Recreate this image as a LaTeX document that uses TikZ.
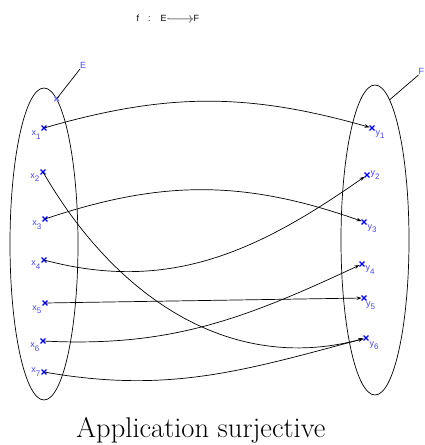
\documentclass[tikz,border=0pt]{standalone}
\usepackage{fontspec}
\usepackage{tikz}
\usetikzlibrary{shapes.misc,shapes.geometric,arrows.meta,positioning,calc}
\newfontfamily\labelfont{Liberation Sans}
\definecolor{pointBlue}{RGB}{0,0,255}
\definecolor{labelBlue}{RGB}{70,70,255}
\definecolor{tagBlue}{RGB}{128,128,255}
\newcommand{\idx}[1]{\raisebox{-0.4em}{\fontsize{8}{9}\selectfont #1}}

\begin{document}
\begin{tikzpicture}[
        x=1pt, y=1pt,
        set/.style={ellipse, draw, line width=0.7pt, inner sep=0pt},
        point/.style={cross out, draw=pointBlue, line width=1.4pt, minimum size=3.5pt, inner sep=0pt},
        lbl/.style={font=\labelfont\fontsize{9}{10}\selectfont, text=labelBlue, inner sep=0.5pt},
        arrow/.style={-{Stealth[length=5pt,width=3.5pt]}, line width=0.7pt},
        label distance=0.5pt
    ]
    \useasboundingbox (0,0) rectangle (425,445);

    % title
    \node[font=\labelfont\fontsize{9}{10}\selectfont, anchor=base west, inner sep=0.5pt] (fmap) at (136,423) {f\hspace{9pt}:\hspace{10pt}E};
    \node[font=\labelfont\fontsize{9}{10}\selectfont, anchor=base west, inner sep=0.5pt] (fimg) at (193,423) {F};
    \draw[->, gray, line width=1pt] (fmap.east) -- (fimg.west);

    % the two sets
    \node[set, minimum width=68pt, minimum height=312pt] (setE) at (44,201) {};
    \node[set, minimum width=68pt, minimum height=310pt] (setF) at (375,205) {};

    \node[point, draw=tagBlue] (tagE) at (setE.85) {};
    \node[lbl, anchor=south west, inner sep=0pt] (nameE) at (80,376) {E};
    \draw[line width=0.7pt] (tagE.center) -- (nameE.south west);
    \node[lbl, anchor=south west, inner sep=0pt] (nameF) at (418.5,370) {F};
    \draw[line width=0.7pt] (setF.84) -- (nameF.south west);

    % elements of E
    \node[point, label={[lbl]-140:x\idx{1}}] (x1) at (44,317) {};
    \node[point, label={[lbl]195:x\idx{2}}] (x2) at (43,273) {};
    \node[point, label={[lbl]200:x\idx{3}}] (x3) at (45,226) {};
    \node[point, label={[lbl]190:x\idx{4}}] (x4) at (44,185) {};
    \node[point, label={[lbl]210:x\idx{5}}] (x5) at (45,142) {};
    \node[point, label={[lbl]205:x\idx{6}}] (x6) at (43,104) {};
    \node[point, label={[lbl]180:x\idx{7}}] (x7) at (44,73) {};

    % elements of F
    \node[point, label={[lbl]-30:y\idx{1}}] (y1) at (372,317) {};
    \node[point, label={[lbl]0:y\idx{2}}] (y2) at (367,270) {};
    \node[point, label={[lbl]-30:y\idx{3}}] (y3) at (364,223) {};
    \node[point, label={[lbl]-25:y\idx{4}}] (y4) at (362,181) {};
    \node[point, label={[lbl]-65:y\idx{5}}] (y5) at (364,147) {};
    \node[point, label={[lbl]-45:y\idx{6}}] (y6) at (366,107) {};

    % the map
    \draw[arrow] (x1.center) to[bend left=16] (y1);
    \draw[arrow] (x2.center) to[out=-60, in=195] (y6);
    \draw[arrow] (x3.center) to[bend left=19] (y3);
    \draw[arrow] (x4.center) to[out=-15, in=215] (y2);
    \draw[arrow] (x5.center) -- (y5);
    \draw[arrow] (x6.center) to[out=-3, in=205] (y4);
    \draw[arrow] (x7.center) to[out=-10, in=195] (y6);

    \node[anchor=base, font=\fontsize{28.5}{32}\selectfont, inner sep=0pt] (caption) at (201,8) {Application surjective};
\end{tikzpicture}
\end{document}
